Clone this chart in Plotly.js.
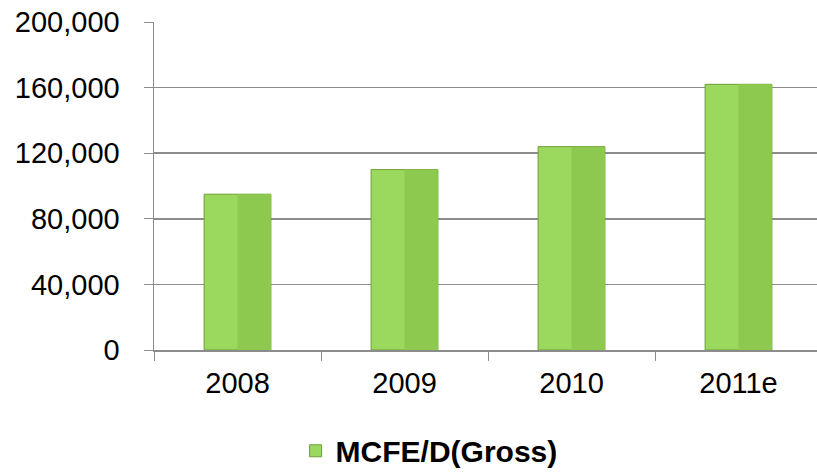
<!DOCTYPE html>
<html>
<head>
<meta charset="utf-8">
<script src="https://cdn.plot.ly/plotly-3.0.1.min.js"></script>
<style>
html,body{margin:0;padding:0;overflow:hidden;background:#fff;}
#chart{width:822px;height:472px;}
</style>
</head>
<body>
<div id="chart"></div>
<script>
const categories = ["2008", "2009", "2010", "2011e"];
const values = [95000, 110000, 124000, 162000];
const seriesName = "MCFE/D(Gross)";
const yTicks = [0, 40000, 80000, 120000, 160000, 200000];
const yTickLabels = ["0", "40,000", "80,000", "120,000", "160,000", "200,000"];

const main = {
  type: "bar", x: categories, y: values, name: seriesName,
  width: 0.4,
  marker: {color: "#9BD85E", line: {color: "#6E9E36", width: 1}},
  hoverinfo: "x+y"
};
const shade = {
  type: "bar", x: categories, y: values, showlegend: false,
  width: 0.2, offset: 0,
  marker: {color: "#8CC94E", line: {width: 0}},
  hoverinfo: "skip"
};

const layout = {
  width: 822, height: 472,
  margin: {l: 154, r: 0, t: 22, b: 122},
  paper_bgcolor: "#fff", plot_bgcolor: "#fff",
  barmode: "overlay",
  font: {family: "Liberation Sans, Arial, sans-serif", size: 29, color: "#000"},
  xaxis: {
    type: "category", tickson: "boundaries",
    ticks: "outside", ticklen: 9, tickcolor: "#8c8c8c",
    showline: true, linecolor: "#8c8c8c", linewidth: 1.5,
    showgrid: false, zeroline: false,
    tickfont: {size: 29}, ticklabelstandoff: 7
  },
  yaxis: {
    range: [0, 200000], tickvals: yTicks, ticktext: yTickLabels,
    ticks: "outside", ticklen: 9, tickcolor: "#8c8c8c",
    showline: true, linecolor: "#8c8c8c", linewidth: 1.5,
    showgrid: true, gridcolor: "#8c8c8c", gridwidth: 1.5,
    zeroline: false, tickfont: {size: 29}, ticklabelstandoff: 18
  },
  showlegend: true,
  legend: {
    orientation: "h", xref: "container", yref: "container",
    x: 0.522, xanchor: "center", y: 0.045, yanchor: "middle",
    font: {size: 30, weight: "bold"}, itemwidth: 30
  }
};

Plotly.newPlot("chart", [main, shade], layout, {displayModeBar: false, staticPlot: true});
</script>
</body>
</html>
